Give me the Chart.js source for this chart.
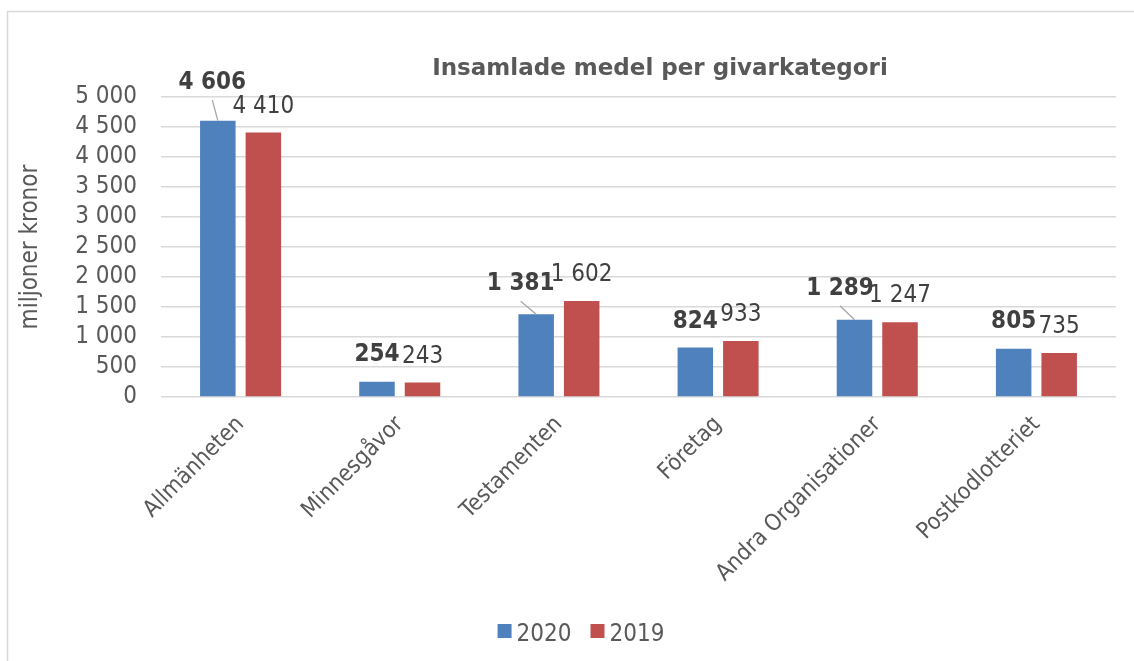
<!DOCTYPE html>
<html lang="sv">
<head>
<meta charset="utf-8">
<title>Insamlade medel per givarkategori</title>
<script src="https://cdn.jsdelivr.net/npm/chart.js@4.4.0/dist/chart.umd.min.js"></script>
<style>
  html, body { margin: 0; padding: 0; background: #fff; }
  canvas { display: block; }
</style>
</head>
<body>
<canvas id="chart" width="1134" height="661"></canvas>
<script>
const categories = ["Allmänheten", "Minnesgåvor", "Testamenten", "Företag", "Andra Organisationer", "Postkodlotteriet"];
const values2020 = [4606, 254, 1381, 824, 1289, 805];
const values2019 = [4410, 243, 1602, 933, 1247, 735];
const seriesNames = ["2020", "2019"];
const yMax = 5000;
const yStep = 500;

const FONT = "'DejaVu Sans Condensed', 'DejaVu Sans', sans-serif";
const TEXT = "#595959";

// "4606" -> "4 606"
function fmt(v) {
	return String(v).replace(/\B(?=(\d{3})+(?!\d))/g, " ");
}

const frame = {
	id: "frame",
	beforeDraw(chart) {
		const ctx = chart.ctx;
		ctx.save();
		ctx.strokeStyle = "#d9d9d9";
		ctx.lineWidth = 1.5;
		ctx.strokeRect(7.5, 11.5, chart.width + 20, chart.height + 20);
		ctx.restore();
	},
};

const heading = {
	id: "heading",
	afterDraw(chart, args, opts) {
		const ctx = chart.ctx;
		ctx.save();
		ctx.font = `bold 23px 'DejaVu Sans', sans-serif`;
		ctx.fillStyle = TEXT;
		ctx.textAlign = "center";
		ctx.textBaseline = "alphabetic";
		ctx.fillText(opts.text, opts.x, opts.y);
		ctx.restore();
	},
};

const bottomLegend = {
	id: "bottomLegend",
	afterDraw(chart, args, opts) {
		const ctx = chart.ctx;
		const box = 14, gap = 5, spacing = 19;
		ctx.save();
		ctx.font = `24px ${FONT}`;
		const items = chart.data.datasets.map((ds) => ({
			label: ds.label,
			color: ds.backgroundColor,
			w: box + gap + ctx.measureText(ds.label).width,
		}));
		const total = items.reduce((a, it) => a + it.w, 0) + spacing * (items.length - 1);
		let x = opts.centerX - total / 2;
		ctx.textBaseline = "alphabetic";
		ctx.textAlign = "left";
		items.forEach((it) => {
			ctx.fillStyle = it.color;
			ctx.fillRect(x, opts.y - 17, box, box);
			ctx.fillStyle = TEXT;
			ctx.fillText(it.label, x + box + gap, opts.y);
			x += it.w + spacing;
		});
		ctx.restore();
	},
};

const barLabels = {
	id: "barLabels",
	afterDatasetsDraw(chart, args, opts) {
		const ctx = chart.ctx;
		ctx.save();
		ctx.textAlign = "center";
		ctx.textBaseline = "middle";
		chart.data.datasets.forEach((ds, di) => {
			const meta = chart.getDatasetMeta(di);
			const nudges = opts.nudge[di] || [];
			ctx.font = `${di === 0 ? "bold " : ""}24px ${FONT}`;
			meta.data.forEach((bar, i) => {
				const [dx, dy] = nudges[i] || [0, opts.lift];
				const lx = bar.x + dx;
				const ly = bar.y + dy;
				if (Math.abs(dx) > 2) {
					// leader line back to the bar top
					ctx.strokeStyle = "#a6a6a6";
					ctx.lineWidth = 1.3;
					ctx.beginPath();
					ctx.moveTo(lx, ly + 17);
					ctx.lineTo(bar.x, bar.y);
					ctx.stroke();
				}
				ctx.fillStyle = "#404040";
				ctx.fillText(fmt(ds.data[i]), lx, ly);
			});
		});
		ctx.restore();
	},
};

new Chart(document.getElementById("chart"), {
	type: "bar",
	data: {
		labels: categories,
		datasets: [
			{
				label: seriesNames[0],
				data: values2020,
				backgroundColor: "#4f81bd",
				categoryPercentage: 0.572,
				barPercentage: 0.78,
			},
			{
				label: seriesNames[1],
				data: values2019,
				backgroundColor: "#c0504d",
				categoryPercentage: 0.572,
				barPercentage: 0.78,
			},
		],
	},
	options: {
		responsive: false,
		animation: false,
		layout: { padding: { top: 97, right: 18, bottom: 0, left: 0 } },
		plugins: {
			legend: { display: false },
			title: { display: false },
			tooltip: { enabled: false },
			heading: { text: "Insamlade medel per givarkategori", x: 660, y: 75 },
			bottomLegend: { centerX: 581, y: 641 },
			barLabels: {
				lift: -26,
				nudge: [
					[[-5.5, -37.5], [0, -27], [-15.5, -30], [0, -26], [-14.5, -31], [0, -27]],
				],
			},
		},
		scales: {
			x: {
				grid: { display: false },
				border: { display: false },
				ticks: {
					autoSkip: false,
					minRotation: 45,
					maxRotation: 45,
					padding: 6,
					color: TEXT,
					font: { family: FONT, size: 23 },
				},
				afterFit(s) {
					s.height = 264;
				},
			},
			y: {
				min: 0,
				max: yMax,
				ticks: {
					stepSize: yStep,
					autoSkip: false,
					padding: 24,
					color: TEXT,
					font: { family: FONT, size: 24, lineHeight: 1 },
					callback: (v) => fmt(v),
				},
				grid: { color: "#d9d9d9", lineWidth: 1.5, drawTicks: false },
				border: { display: false },
				title: {
					display: true,
					text: "miljoner kronor",
					color: TEXT,
					font: { family: FONT, size: 24 },
					padding: { top: 16, bottom: 0 },
				},
				afterFit(s) {
					s.width = 161;
				},
			},
		},
	},
	plugins: [frame, heading, bottomLegend, barLabels],
});
</script>
</body>
</html>
